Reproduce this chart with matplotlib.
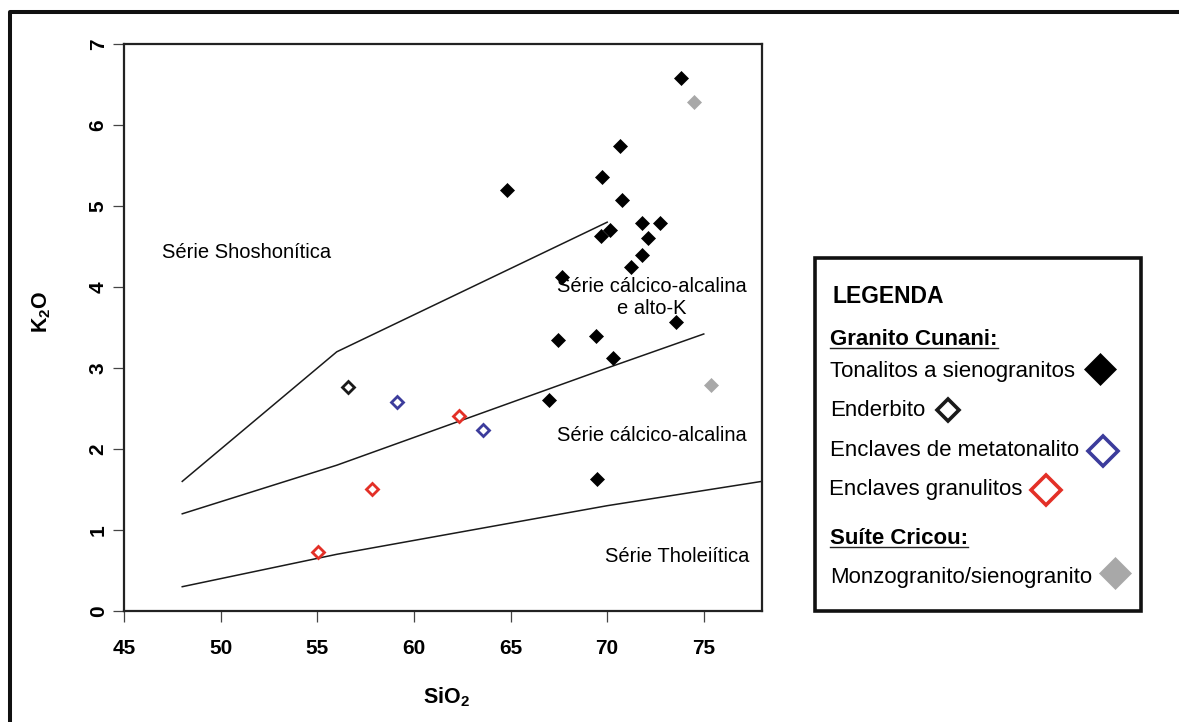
import matplotlib.pyplot as plt
from matplotlib.lines import Line2D
from matplotlib.patches import Rectangle

plt.rcParams['font.family'] = ['Liberation Sans', 'DejaVu Sans']
plt.rcParams['mathtext.fontset'] = 'custom'
plt.rcParams['mathtext.rm'] = 'Liberation Sans'
plt.rcParams['mathtext.bf'] = 'Liberation Sans:bold'

# Granito Cunani - tonalitos a sienogranitos (SiO2, K2O wt%)
tonal_sio2 = [73.84, 70.64, 69.73, 64.81, 70.78, 71.82, 72.75, 72.11, 70.13, 69.70,
              71.82, 71.21, 67.68, 73.58, 67.45, 69.44, 70.30, 66.97, 69.47]
tonal_k2o = [6.58, 5.74, 5.36, 5.20, 5.08, 4.79, 4.79, 4.61, 4.70, 4.63,
             4.40, 4.25, 4.12, 3.57, 3.35, 3.40, 3.12, 2.60, 1.63]

# enderbito
ender_sio2 = [56.56]
ender_k2o = [2.77]

# enclaves de metatonalito
meta_sio2 = [59.12, 63.57]
meta_k2o = [2.58, 2.23]

# enclaves granulitos
granul_sio2 = [62.31, 57.83, 55.01]
granul_k2o = [2.41, 1.51, 0.73]

# Suite Cricou - monzogranito/sienogranito
cricou_sio2 = [74.52, 75.40]
cricou_k2o = [6.28, 2.79]

# series boundaries (Peccerillo & Taylor 1976)
shosh_x = [48, 56, 70]
shosh_y = [1.6, 3.2, 4.8]
highk_x = [48, 52, 56, 63, 70, 75]
highk_y = [1.2, 1.5, 1.8, 2.4, 3.0, 3.42]
thol_x = [48, 52, 56, 63, 70, 78]
thol_y = [0.3, 0.5, 0.7, 1.0, 1.3, 1.6]

x_ticks = [45, 50, 55, 60, 65, 70, 75]
y_ticks = [0, 1, 2, 3, 4, 5, 6, 7]

W, H = 1179, 722


def fx(px):
    return px / W


def fy(py):
    return 1 - py / H


fig = plt.figure(figsize=(W / 100, H / 100), dpi=100)
ax = fig.add_axes([fx(124.3), fy(611), (761.7 - 124.3) / W, (611 - 44) / H])

# boundary lines
for xs, ys in [(shosh_x, shosh_y), (highk_x, highk_y), (thol_x, thol_y)]:
    ax.plot(xs, ys, color='#1a1a1a', lw=1.1)

ms = 7.4
ax.plot(tonal_sio2, tonal_k2o, 'D', color='black', ms=ms, mew=0.5, ls='none')
ax.plot(cricou_sio2, cricou_k2o, 'D', color='#a8a8a8', ms=ms, mew=0.5, ls='none')
ax.plot(ender_sio2, ender_k2o, 'D', mfc='white', mec='#1a1a1a', ms=6.6, mew=2, ls='none')
ax.plot(meta_sio2, meta_k2o, 'D', mfc='white', mec='#3c3c9c', ms=6.6, mew=2, ls='none')
ax.plot(granul_sio2, granul_k2o, 'D', mfc='white', mec='#e33027', ms=6.6, mew=2, ls='none')

# series names
ax.text(46.95, 4.43, 'Série Shoshonítica', fontsize=14.5, va='center', ha='left')
ax.text(72.3, 3.87, 'Série cálcico-alcalina\ne alto-K', fontsize=14.5,
        va='center', ha='center', linespacing=1.15)
ax.text(72.3, 2.17, 'Série cálcico-alcalina', fontsize=14.5, va='center', ha='center')
ax.text(73.65, 0.67, 'Série Tholeiítica', fontsize=14.5, va='center', ha='center')

ax.set_xlim(45, 78)
ax.set_ylim(0, 7)
ax.set_xticks(x_ticks)
ax.set_yticks(y_ticks)
ax.tick_params(direction='out', length=8, width=0.9, color='#444444', labelsize=15)
ax.tick_params(axis='x', pad=12)
ax.tick_params(axis='y', pad=4)
for lab in ax.get_xticklabels() + ax.get_yticklabels():
    lab.set_fontweight('bold')
plt.setp(ax.get_yticklabels(), rotation=90, va='center')
for sp in ax.spines.values():
    sp.set_linewidth(1.6)
    sp.set_color('#222222')

fig.text(fx(42), fy(312), r'K$_\mathbf{2}$O', fontsize=15.5, fontweight='bold',
         rotation=90, ha='center', va='center')
fig.text(fx(446), fy(697), r'SiO$_\mathbf{2}$', fontsize=15.5, fontweight='bold',
         ha='center', va='center')

# outer frame (top and left)
fig.add_artist(Line2D([fx(10), fx(10), 1], [0, fy(11.5), fy(11.5)],
                      transform=fig.transFigure, color='#111111', lw=2.9))

# legend box
fig.add_artist(Rectangle((fx(815), fy(611)), (1141 - 815) / W, (611 - 258) / H,
                         transform=fig.transFigure, fill=False, ec='#111111', lw=2.6))
fig.text(fx(832.7), fy(297), 'LEGENDA', fontsize=16.5, fontweight='bold', va='center')
head1 = fig.text(fx(830), fy(340), 'Granito Cunani:', fontsize=16, fontweight='bold',
                 va='center')
fig.text(fx(830), fy(372), 'Tonalitos a sienogranitos', fontsize=16, va='center')
fig.text(fx(830), fy(410), 'Enderbito', fontsize=16, va='center')
fig.text(fx(830), fy(451), 'Enclaves de metatonalito', fontsize=16, va='center')
fig.text(fx(829), fy(490), 'Enclaves granulitos', fontsize=16, va='center')
head2 = fig.text(fx(830), fy(538), 'Suíte Cricou:', fontsize=16, fontweight='bold',
                 va='center')
fig.text(fx(830), fy(577), 'Monzogranito/sienogranito', fontsize=16, va='center')

keys = [
    (1100, 369, dict(color='black', ms=16.5, mew=0.5)),
    (948, 410, dict(mfc='white', mec='#1a1a1a', ms=11.5, mew=2.6)),
    (1102.7, 451, dict(mfc='white', mec='#3c3c9c', ms=15, mew=2.6)),
    (1046, 490, dict(mfc='white', mec='#e33027', ms=15, mew=2.6)),
    (1115, 573, dict(color='#a8a8a8', ms=16.5, mew=0.5)),
]
for px, py, kw in keys:
    fig.add_artist(Line2D([fx(px)], [fy(py)], marker='D', ls='none',
                          transform=fig.transFigure, **kw))

# underline the group headings
fig.canvas.draw()
r = fig.canvas.get_renderer()
for t in (head1, head2):
    bb = t.get_window_extent(r)
    y0 = bb.y0 + 2
    fig.add_artist(Line2D([bb.x0 / W, bb.x1 / W], [y0 / H, y0 / H],
                          transform=fig.transFigure, color='#222222', lw=1.0))

fig.savefig('out.png', dpi=100)
